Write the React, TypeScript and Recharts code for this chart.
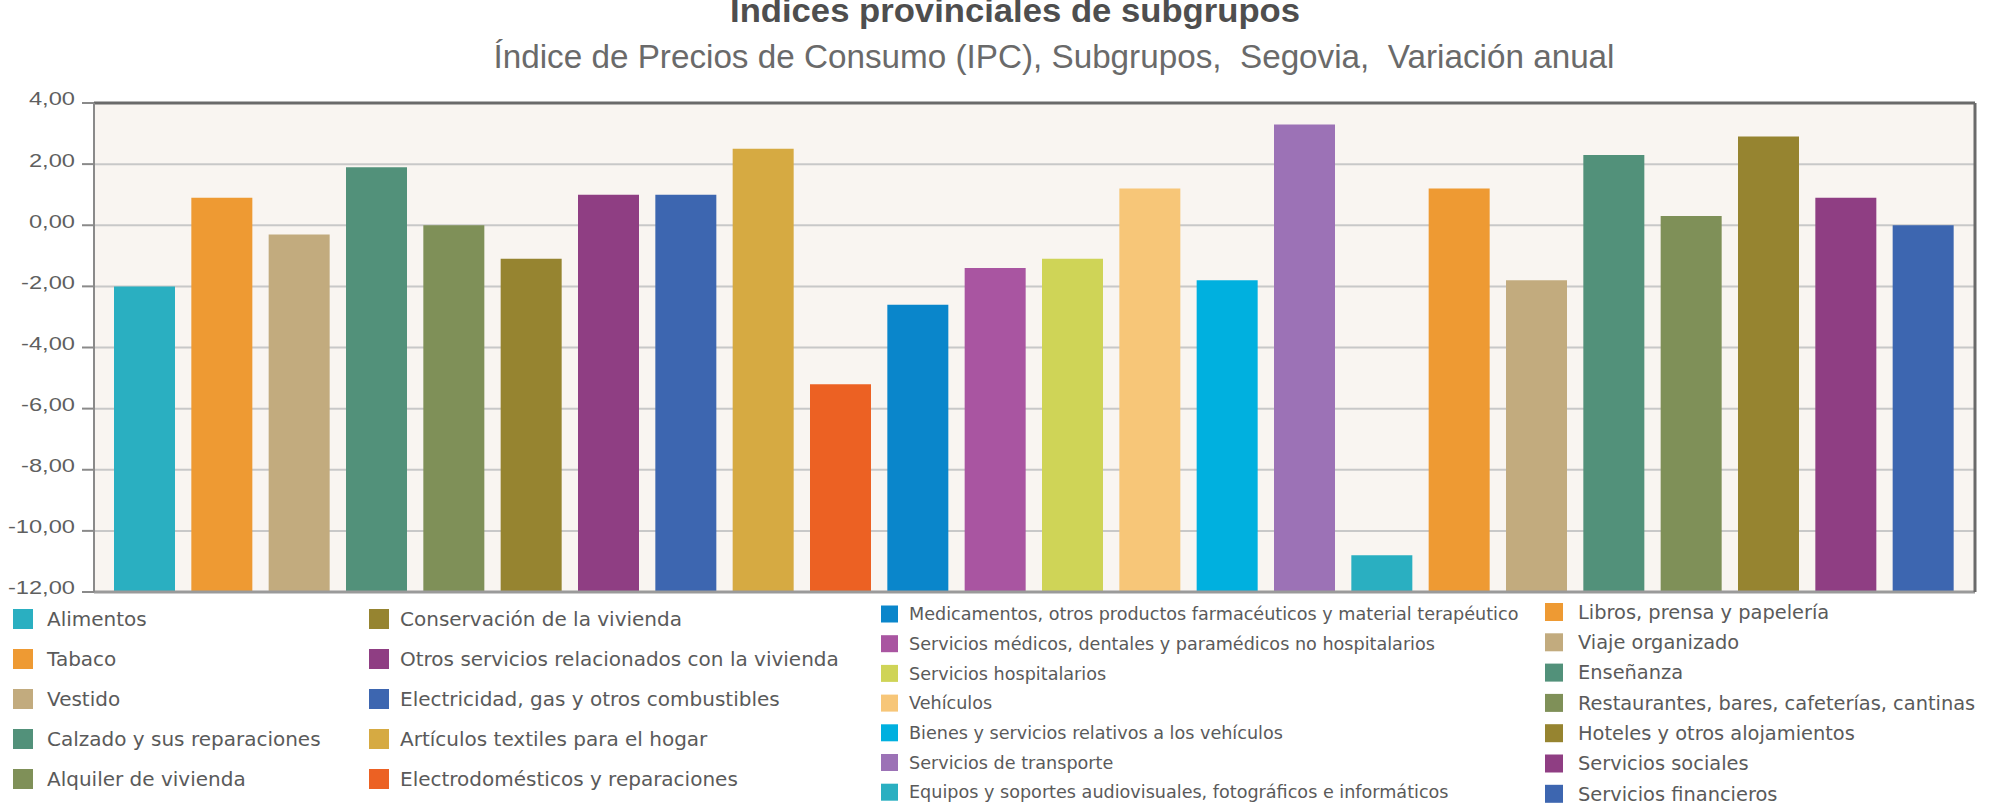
import {
  Bar,
  BarChart,
  CartesianGrid,
  Cell,
  ReferenceLine,
  XAxis,
  YAxis,
} from "recharts";

const categories = [
  "Alimentos",
  "Tabaco",
  "Vestido",
  "Calzado y sus reparaciones",
  "Alquiler de vivienda",
  "Conservación de la vivienda",
  "Otros servicios relacionados con la vivienda",
  "Electricidad, gas y otros combustibles",
  "Artículos textiles para el hogar",
  "Electrodomésticos y reparaciones",
  "Medicamentos, otros productos farmacéuticos y material terapéutico",
  "Servicios médicos, dentales y paramédicos no hospitalarios",
  "Servicios hospitalarios",
  "Vehículos",
  "Bienes y servicios relativos a los vehículos",
  "Servicios de transporte",
  "Equipos y soportes audiovisuales, fotográficos e informáticos",
  "Libros, prensa y papelería",
  "Viaje organizado",
  "Enseñanza",
  "Restaurantes, bares, cafeterías, cantinas",
  "Hoteles y otros alojamientos",
  "Servicios sociales",
  "Servicios financieros",
];

// variación anual (%)
const values = [
  -2.0, 0.9, -0.3, 1.9, 0.0, -1.1, 1.0, 1.0, 2.5, -5.2, -2.6, -1.4, -1.1, 1.2,
  -1.8, 3.3, -10.8, 1.2, -1.8, 2.3, 0.3, 2.9, 0.9, 0.0,
];

const colors = [
  "#2aafc1", "#ee9a33", "#c2ab7e", "#52917a", "#7f9058", "#968430",
  "#8f3e83", "#3d66b0", "#d6aa42", "#ec6123", "#0a86cb", "#a955a1",
  "#cfd457", "#f7c678", "#00b0df", "#9c72b6", "#2aafc1", "#ee9a33",
  "#c2ab7e", "#52917a", "#7f9058", "#968430", "#8f3e83", "#3d66b0",
];

const yTicks = [-12, -10, -8, -6, -4, -2, 0, 2, 4];
const yMin = -12;
const yMax = 4;

const title = "Índices provinciales de subgrupos";
const subtitle =
  "Índice de Precios de Consumo (IPC), Subgrupos,  Segovia,  Variación anual";

// legend columns: [first index, last index + 1]
const legendGroups = [
  [0, 5],
  [5, 10],
  [10, 17],
  [17, 24],
];

// layout of each legend column (not data)
const legendLayout = [
  { swatchX: 13, swatch: 20, textX: 47, top: 619, step: 40, font: 20 },
  { swatchX: 369, swatch: 20, textX: 400, top: 619, step: 40, font: 20 },
  { swatchX: 881, swatch: 17, textX: 909, top: 614, step: 29.7, font: 17.6 },
  { swatchX: 1545, swatch: 18, textX: 1578, top: 612, step: 30.3, font: 19.4 },
];

const data = categories.map((name, i) => ({
  name,
  range: [yMin, values[i]],
}));

const fmt = (v: number) => v.toFixed(2).replace(".", ",");

const YTick = (props: any) => {
  const { x, y, payload } = props;
  return (
    <g transform={`translate(${x},${y - 4}) scale(1.28,1)`}>
      <text
        x={0}
        y={0}
        dy="0.35em"
        textAnchor="end"
        fill="#5f5f5f"
        fontSize={18.5}
        fontFamily="'Liberation Sans', Arial, sans-serif"
      >
        {fmt(payload.value)}
      </text>
    </g>
  );
};

export default function App() {
  return (
    <div
      style={{
        position: "absolute",
        left: 0,
        top: 0,
        width: 2002,
        height: 806,
        background: "#ffffff",
        overflow: "hidden",
      }}
    >
      <BarChart
        width={2002}
        height={806}
        data={data}
        margin={{ top: 103, right: 26, bottom: 214, left: 0 }}
      >
        <CartesianGrid
          vertical={false}
          stroke="#c8c8c8"
          strokeWidth={2}
          fill="#f9f5f1"
          fillOpacity={1}
        />
        <XAxis
          dataKey="name"
          tick={false}
          tickLine={false}
          height={0}
          padding={{ left: 12, right: 13 }}
          axisLine={false}
        />
        <YAxis
          domain={[yMin, yMax]}
          ticks={yTicks}
          interval={0}
          width={94}
          tickSize={12}
          tickMargin={7}
          tickLine={{ stroke: "#8a8a8a", strokeWidth: 2 }}
          axisLine={{ stroke: "#8a8a8a", strokeWidth: 2 }}
          tick={YTick}
          allowDataOverflow
        />
        <YAxis
          yAxisId="right"
          orientation="right"
          domain={[yMin, yMax]}
          width={1}
          tick={false}
          tickLine={false}
          axisLine={{ stroke: "#6a6a6a", strokeWidth: 3 }}
        />
        <Bar dataKey="range" barSize={61} isAnimationActive={false}>
          {data.map((d, i) => (
            <Cell key={d.name} fill={colors[i]} />
          ))}
        </Bar>
        <ReferenceLine y={yMin} stroke="#9a9a9a" strokeWidth={3} />
        <ReferenceLine y={yMax} stroke="#6a6a6a" strokeWidth={3} />
      </BarChart>
      <svg
        width={2002}
        height={806}
        style={{ position: "absolute", left: 0, top: 0, pointerEvents: "none" }}
      >
        <text
          x={1015}
          y={22}
          textAnchor="middle"
          fontFamily="'Liberation Sans', Arial, sans-serif"
          fontWeight="bold"
          fontSize={33}
          fill="#4e4e4e"
          textLength={570}
          lengthAdjust="spacingAndGlyphs"
        >
          {title}
        </text>
        <text
          x={1054}
          y={68}
          textAnchor="middle"
          fontFamily="'Liberation Sans', Arial, sans-serif"
          fontSize={34}
          fill="#6a6a6a"
          textLength={1121}
          lengthAdjust="spacingAndGlyphs"
          style={{ whiteSpace: "pre" }}
        >
          {subtitle}
        </text>
        {legendGroups.map(([from, to], c) => {
          const l = legendLayout[c];
          return categories.slice(from, to).map((name, k) => {
            const cy = l.top + k * l.step;
            return (
              <g key={name}>
                <rect
                  x={l.swatchX}
                  y={cy - l.swatch / 2}
                  width={l.swatch}
                  height={l.swatch}
                  fill={colors[from + k]}
                />
                <text
                  x={l.textX}
                  y={cy}
                  dy="0.35em"
                  fontFamily="'DejaVu Sans', Verdana, sans-serif"
                  fontSize={l.font}
                  fill="#5a5a5a"
                >
                  {name}
                </text>
              </g>
            );
          });
        })}
      </svg>
    </div>
  );
}
